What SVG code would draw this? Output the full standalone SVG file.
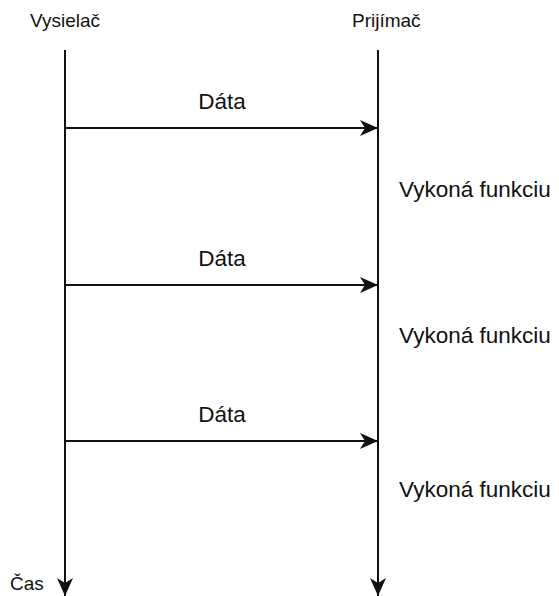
<svg xmlns="http://www.w3.org/2000/svg" width="559" height="596" viewBox="0 0 559 596">
<defs>
<style>
.t{font-family:"Liberation Sans",Arial,sans-serif;fill:#111;}
.s{font-size:19px;}
.l{font-size:22.5px;}
.c{stroke:#111;stroke-width:2;fill:none;}
</style>
<marker id="ah" viewBox="0 0 18 16" refX="18" refY="8" markerWidth="18" markerHeight="16" markerUnits="userSpaceOnUse" orient="auto">
<path d="M0,0 L18,8 L0,16 L5,8 Z" fill="#111"/>
</marker>
</defs>
<rect width="559" height="596" fill="#fff"/>
<g id="sender">
<text class="t s" x="30" y="27">Vysielač</text>
</g>
<g id="receiver">
<text class="t s" x="352" y="27">Prijímač</text>
</g>
<g id="time">
<text class="t s" x="10" y="590">Čas</text>
</g>
<g id="connectors">
<line class="c" x1="65" y1="50" x2="65" y2="596" marker-end="url(#ah)"/>
<line class="c" x1="378" y1="50" x2="378" y2="596" marker-end="url(#ah)"/>
<line class="c" x1="65" y1="128" x2="378" y2="128" marker-end="url(#ah)"/>
<line class="c" x1="65" y1="285" x2="378" y2="285" marker-end="url(#ah)"/>
<line class="c" x1="65" y1="441" x2="378" y2="441" marker-end="url(#ah)"/>
</g>
<g id="labels">
<text class="t l" x="222" y="109" text-anchor="middle">Dáta</text>
<text class="t l" x="222" y="266" text-anchor="middle">Dáta</text>
<text class="t l" x="222" y="422" text-anchor="middle">Dáta</text>
<text class="t l" x="399" y="197">Vykoná funkciu</text>
<text class="t l" x="399" y="343">Vykoná funkciu</text>
<text class="t l" x="399" y="497">Vykoná funkciu</text>
</g>
</svg>
